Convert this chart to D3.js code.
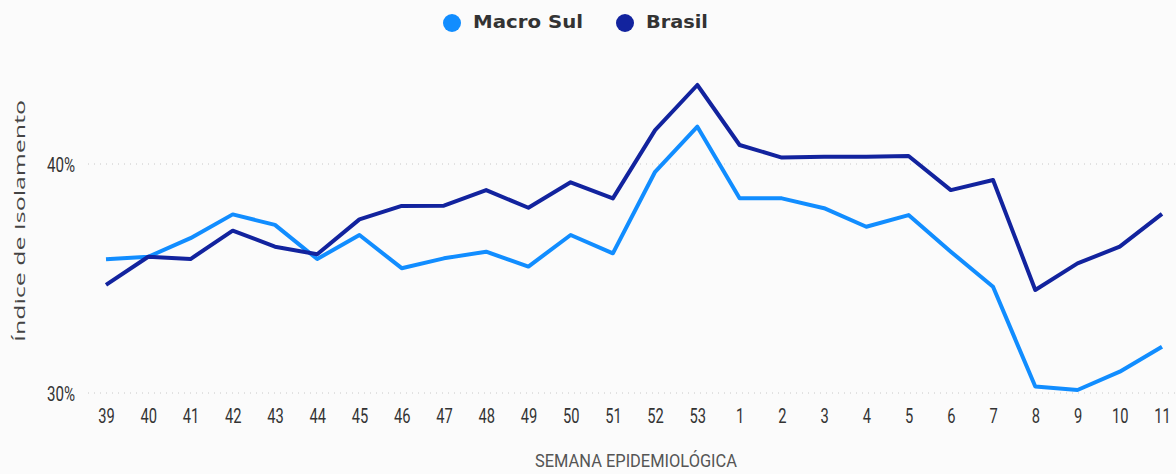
<!DOCTYPE html>
<html>
<head>
<meta charset="utf-8">
<script src="https://cdn.jsdelivr.net/npm/d3@7"></script>
<style>
  html, body { margin: 0; padding: 0; background: #fff; }
  svg { display: block; }
</style>
</head>
<body>
<div id="chart"></div>
<script>
!function () {
  'use strict';

  // semanas epidemiologicas
  var weeks = ["39","40","41","42","43","44","45","46","47","48","49","50","51","52","53",
               "1","2","3","4","5","6","7","8","9","10","11"];

  var macroSul = [35.84, 35.95, 36.76, 37.8, 37.34, 35.85, 36.9, 35.45, 35.88, 36.17, 35.52, 36.9, 36.1,
                  39.66, 41.63, 38.5, 38.5, 38.07, 37.26, 37.77, 36.17, 34.64, 30.28, 30.13, 30.93, 32.02];

  var brasil = [34.72, 35.95, 35.85, 37.09, 36.39, 36.06, 37.58, 38.17, 38.18, 38.86, 38.09, 39.2, 38.5,
                41.48, 43.45, 40.83, 40.28, 40.32, 40.32, 40.35, 38.86, 39.3, 34.5, 35.66, 36.39, 37.82];

  var yTicks = [30, 40];

  var seriesNames = ["Macro Sul", "Brasil"];
  var seriesColors = ["#118DFF", "#12239E"];

  var width = 1176, height = 474;
  var narrow = "Roboto, sans-serif";

  var svg = d3.select("#chart").append("svg")
    .attr("width", width)
    .attr("height", height);

  svg.append("rect")
    .attr("width", width).attr("height", height)
    .attr("fill", "#fbfbfb");

  var x = d3.scalePoint()
    .domain(weeks)
    .range([106, 1162]);

  // 40% -> 164, 30% -> 393
  var y = d3.scaleLinear()
    .domain([30, 40])
    .range([393, 164]);

  // grid
  svg.selectAll("line.grid")
    .data(yTicks)
    .enter().append("line")
    .attr("class", "grid")
    .attr("x1", 88).attr("x2", width)
    .attr("y1", function (d) { return y(d); })
    .attr("y2", function (d) { return y(d); })
    .style("stroke", "#c8c8c8")
    .style("stroke-width", 1)
    .style("stroke-dasharray", "1,5");

  // y tick labels (condensed look via scaleX)
  svg.selectAll("text.ytick")
    .data(yTicks)
    .enter().append("text")
    .attr("class", "ytick")
    .attr("transform", function (d) { return "translate(75," + y(d) + ") scale(0.72,1)"; })
    .attr("dy", "0.36em")
    .attr("text-anchor", "end")
    .style("font-family", narrow)
    .style("font-size", "21px")
    .style("fill", "#333")
    .text(function (d) { return d + "%"; });

  // x axis
  var xAxis = svg.append("g")
    .attr("transform", "translate(0,408)")
    .call(d3.axisBottom(x).tickSize(0).tickPadding(0));
  xAxis.select(".domain").remove();
  xAxis.selectAll("text")
    .attr("dy", "0.71em")
    .attr("transform", "scale(0.7,1)")
    .style("font-family", narrow)
    .style("font-size", "21px")
    .style("fill", "#333");

  // axis titles
  svg.append("text")
    .attr("x", 535).attr("y", 467)
    .attr("textLength", 202)
    .attr("lengthAdjust", "spacingAndGlyphs")
    .style("font-family", narrow)
    .style("font-size", "19px")
    .style("fill", "#555")
    .text("SEMANA EPIDEMIOLÓGICA");

  svg.append("text")
    .attr("transform", "translate(25,342) rotate(-90)")
    .attr("textLength", 242)
    .attr("lengthAdjust", "spacingAndGlyphs")
    .style("font-family", "'Open Sans', sans-serif")
    .style("font-size", "15px")
    .style("fill", "#444")
    .text("Índice de Isolamento");

  // lines
  var series = [macroSul, brasil];
  var line = d3.line()
    .x(function (d, i) { return x(weeks[i]); })
    .y(function (d) { return y(d); });

  svg.selectAll("path.series")
    .data(series)
    .enter().append("path")
    .attr("class", "series")
    .attr("d", line)
    .style("fill", "none")
    .style("stroke", function (d, i) { return seriesColors[i]; })
    .style("stroke-width", 4)
    .style("stroke-linejoin", "round");

  // legend
  var legendX = [452, 625];
  var legendLen = [110, 62];
  var legend = svg.selectAll("g.legend")
    .data(seriesNames)
    .enter().append("g")
    .attr("class", "legend")
    .attr("transform", function (d, i) { return "translate(" + legendX[i] + ",23)"; });

  legend.append("circle")
    .attr("r", 9)
    .style("fill", function (d, i) { return seriesColors[i]; });

  legend.append("text")
    .attr("x", 21)
    .attr("dy", "0.3em")
    .attr("textLength", function (d, i) { return legendLen[i]; })
    .attr("lengthAdjust", "spacingAndGlyphs")
    .style("font-family", "'DejaVu Sans', sans-serif")
    .style("font-weight", "bold")
    .style("font-size", "17px")
    .style("fill", "#333")
    .text(function (d) { return d; });

}();
</script>
</body>
</html>
